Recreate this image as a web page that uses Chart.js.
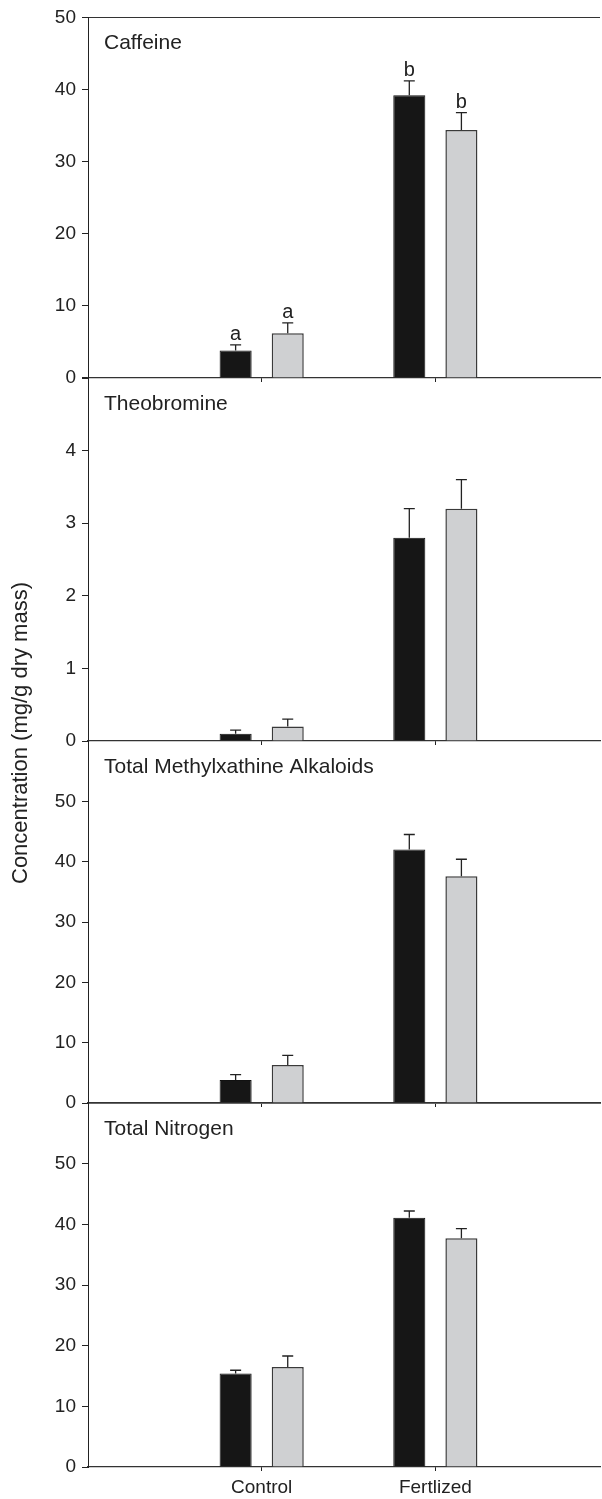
<!DOCTYPE html>
<html>
<head>
<meta charset="utf-8">
<title>Concentration panels</title>
<script src="https://cdn.jsdelivr.net/npm/chart.js@4/dist/chart.umd.min.js"></script>
<style>
    body { margin: 0; background: #fff; overflow: hidden; }
    #figure { position: relative; width: 602px; height: 1499px; }
    #figure canvas { position: absolute; left: 0; top: 0; }
    #y-title {
        position: absolute;
        left: 20px;
        top: 733px;
        transform: translate(-50%, -50%) rotate(-90deg);
        white-space: nowrap;
        font: 22px "Liberation Sans", Arial, sans-serif;
        color: #222;
    }
</style>
</head>
<body>
<div id="figure">
    <canvas id="panel-0" width="602" height="1499"></canvas>
    <canvas id="panel-1" width="602" height="1499"></canvas>
    <canvas id="panel-2" width="602" height="1499"></canvas>
    <canvas id="panel-3" width="602" height="1499"></canvas>
    <div id="y-title">Concentration (mg/g dry mass)</div>
</div>
<script>
// categories on the shared x axis
const categories = ['Control', 'Fertlized'];

// panel names and y ranges
const panelTitles = ['Caffeine', 'Theobromine', 'Total Methylxathine Alkaloids', 'Total Nitrogen'];
const yMaxes = [50, 5, 60, 60];
const ySteps = [10, 1, 10, 10];

// black bars (mean, +error)
const caffeineBlack = [3.8, 39.2];
const caffeineBlackErr = [0.8, 2.0];
const theobromineBlack = [0.1, 2.8];
const theobromineBlackErr = [0.05, 0.4];
const alkaloidsBlack = [3.8, 42.0];
const alkaloidsBlackErr = [0.9, 2.5];
const nitrogenBlack = [15.4, 41.1];
const nitrogenBlackErr = [0.55, 1.1];

// grey bars (mean, +error)
const caffeineGrey = [6.2, 34.4];
const caffeineGreyErr = [1.45, 2.4];
const theobromineGrey = [0.2, 3.2];
const theobromineGreyErr = [0.1, 0.4];
const alkaloidsGrey = [6.3, 37.6];
const alkaloidsGreyErr = [1.6, 2.8];
const nitrogenGrey = [16.5, 37.7];
const nitrogenGreyErr = [1.8, 1.6];

// significance letters (caffeine only)
const caffeineBlackLetters = ['a', 'b'];
const caffeineGreyLetters = ['a', 'b'];

const FONT = '"Liberation Sans", Arial, sans-serif';
const INK = '#222';

// pixel layout of the stacked panels
const panelTops = [15, 378, 741, 1103];
const panelBottoms = [378, 741, 1103, 1467];

document.addEventListener('DOMContentLoaded', function () {
    const blacks = [caffeineBlack, theobromineBlack, alkaloidsBlack, nitrogenBlack];
    const blackErrs = [caffeineBlackErr, theobromineBlackErr, alkaloidsBlackErr, nitrogenBlackErr];
    const greys = [caffeineGrey, theobromineGrey, alkaloidsGrey, nitrogenGrey];
    const greyErrs = [caffeineGreyErr, theobromineGreyErr, alkaloidsGreyErr, nitrogenGreyErr];
    const blackLetters = [caffeineBlackLetters, null, null, null];
    const greyLetters = [caffeineGreyLetters, null, null, null];

    for (let i = 0; i < 4; i++) {
        buildPanel(i, blacks[i], blackErrs[i], greys[i], greyErrs[i], blackLetters[i], greyLetters[i]);
    }
});

/**
 * Draw upward error bars and letters above each bar
 */
const errorBarPlugin = {
    id: 'errorBars',
    afterDatasetsDraw(chart) {
        const ctx = chart.ctx;
        const yScale = chart.scales.y;
        ctx.save();
        chart.data.datasets.forEach(function (ds, di) {
            const meta = chart.getDatasetMeta(di);
            meta.data.forEach(function (bar, j) {
                const top = yScale.getPixelForValue(ds.data[j].y + ds.errors[j]);
                ctx.strokeStyle = INK;
                ctx.lineWidth = 1.3;
                ctx.beginPath();
                ctx.moveTo(bar.x, bar.y);
                ctx.lineTo(bar.x, top);
                ctx.moveTo(bar.x - 5.5, top);
                ctx.lineTo(bar.x + 5.5, top);
                ctx.stroke();
                if (ds.letters) {
                    ctx.fillStyle = INK;
                    ctx.font = '20px ' + FONT;
                    ctx.textAlign = 'center';
                    ctx.textBaseline = 'alphabetic';
                    ctx.fillText(ds.letters[j], bar.x, top - 5);
                }
            });
        });
        ctx.restore();
    }
};

/**
 * Panel name in the upper left corner
 */
const panelTitlePlugin = {
    id: 'panelTitle',
    afterDraw(chart, args, opts) {
        const ctx = chart.ctx;
        ctx.save();
        ctx.fillStyle = INK;
        ctx.font = '21px ' + FONT;
        ctx.textAlign = 'left';
        ctx.textBaseline = 'alphabetic';
        ctx.fillText(opts.text, chart.chartArea.left + 16, chart.chartArea.top + 32);
        ctx.restore();
    }
};

/**
 * Build one of the four stacked bar charts
 */
function buildPanel(i, black, blackErr, grey, greyErr, blackLetters, greyLetters) {
    const isBottom = i === 3;
    const xAxisHeight = isBottom ? 32 : 4;
    const yMax = yMaxes[i];

    new Chart(document.getElementById('panel-' + i), {
        type: 'bar',
        data: {
            datasets: [
                {
                    label: 'Black',
                    data: black.map(function (v, k) { return { x: k, y: v }; }),
                    errors: blackErr,
                    letters: blackLetters,
                    backgroundColor: '#161616',
                    borderColor: '#111',
                    borderWidth: 1
                },
                {
                    label: 'Grey',
                    data: grey.map(function (v, k) { return { x: k, y: v }; }),
                    errors: greyErr,
                    letters: greyLetters,
                    backgroundColor: '#cfd0d2',
                    borderColor: '#3a3a3a',
                    borderWidth: 1.5
                }
            ]
        },
        options: {
            responsive: false,
            animation: false,
            events: [],
            categoryPercentage: 0.6,
            barPercentage: 0.615,
            layout: {
                padding: { top: panelTops[i], bottom: 1499 - panelBottoms[i] - xAxisHeight, left: 0, right: 2 }
            },
            plugins: {
                legend: { display: false },
                tooltip: { enabled: false },
                panelTitle: { text: panelTitles[i] }
            },
            scales: {
                x: {
                    type: 'linear',
                    min: -1,
                    max: 1.948,
                    offset: false,
                    afterBuildTicks: function (scale) {
                        scale.ticks = categories.map(function (c, k) { return { value: k }; });
                    },
                    afterFit: function (scale) { scale.height = xAxisHeight; },
                    ticks: {
                        display: isBottom,
                        padding: 5,
                        color: INK,
                        font: { family: FONT, size: 19 },
                        callback: function (value) { return categories[value]; }
                    },
                    grid: {
                        offset: false,
                        drawOnChartArea: false,
                        tickLength: 4,
                        color: INK
                    },
                    border: { color: '#333', width: i === 2 ? 1.8 : 1.2 }
                },
                y: {
                    min: 0,
                    max: yMax,
                    afterFit: function (scale) { scale.width = 88; },
                    ticks: {
                        stepSize: ySteps[i],
                        padding: 6,
                        color: INK,
                        font: { family: FONT, size: 19 },
                        callback: function (value) {
                            return (i > 0 && value === yMax) ? '' : value;
                        }
                    },
                    grid: {
                        tickLength: 6,
                        tickColor: INK,
                        color: function (c) {
                            return (i === 0 && c.tick && c.tick.value === yMax) ? '#333' : 'rgba(0,0,0,0)';
                        }
                    },
                    border: { color: INK, width: 1 }
                }
            }
        },
        plugins: [errorBarPlugin, panelTitlePlugin]
    });
}
</script>
</body>
</html>
